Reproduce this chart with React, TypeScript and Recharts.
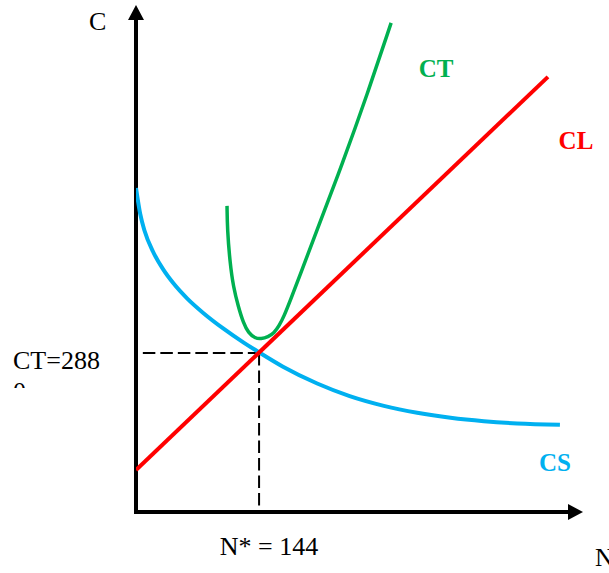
import React from 'react';
import { LineChart, Line, XAxis, YAxis, ReferenceLine, LabelList } from 'recharts';

// Axis extents (N = quantity, C = cost)
const N_MAX = 523;
const C_MAX = 9180;

// Optimum
const N_STAR = 144;
const CT_STAR = 2880;

// CS: storage cost, decreasing with N
const csN = [0, 5, 10, 20, 32, 44, 60, 79, 102, 126, 144, 172, 212, 250, 290, 329, 368, 407, 446, 496];
const csC = [5867, 5392, 5092, 4712, 4388, 4136, 3864, 3600, 3324, 3067, 2890, 2630, 2326, 2098, 1922, 1797, 1707, 1645, 1604, 1579];

// CT: total cost, U-shaped
const ctN = [106.5, 106.9, 110, 113.9, 119.8, 125.6, 131.5, 139.3, 146.3, 154.5, 161.6, 167.4, 173.3, 180.3, 192, 209.6, 242.3, 270.4, 298.5];
const ctC = [5543, 5108, 4510, 4075, 3713, 3423, 3242, 3146, 3134, 3170, 3242, 3369, 3550, 3822, 4293, 5017, 6340, 7553, 8857];

// CL: launch cost, linear in N
const clN = [0, 482];
const clC = [761, 7879];

const toRows = (ns: number[], cs: number[]) => ns.map((n, i) => ({ n, c: cs[i] }));
const csData = toRows(csN, csC);
const ctData = toRows(ctN, ctC);
const clData = toRows(clN, clC);

const SERIF = "'Liberation Serif', 'Times New Roman', serif";
const GREEN = '#00B050';
const RED = '#FF0000';
const BLUE = '#00B0F0';

const XTick = (props: any) => {
  const { x, y, payload } = props;
  return (
    <text x={x + 10} y={y + 43} textAnchor="middle" fontFamily={SERIF} fontSize={26} fill="#000">
      {`N* = ${payload.value}`}
    </text>
  );
};

const YTick = (props: any) => {
  const { x, y, payload } = props;
  const label = `CT=${payload.value}`;
  return (
    <g>
      <defs>
        <clipPath id="ytick-clip">
          <rect x={0} y={y - 40} width={x - 4} height={75} />
        </clipPath>
      </defs>
      <g clipPath="url(#ytick-clip)">
        <text x={x - 123} y={y + 16} fontFamily={SERIF} fontSize={26} fill="#000">
          {label.slice(0, -1)}
        </text>
        <text x={x - 123} y={y + 47} fontFamily={SERIF} fontSize={26} fill="#000">
          {label.slice(-1)}
        </text>
      </g>
    </g>
  );
};

// Axis line with an arrowhead at its far end
const arrowAxis = (props: any) => {
  const { x1, y1, x2, y2 } = props;
  const dx = x2 - x1;
  const dy = y2 - y1;
  const len = Math.sqrt(dx * dx + dy * dy) || 1;
  const ux = dx / len;
  const uy = dy / len;
  const head = 15;
  const half = 8;
  const bx = x2 - ux * head;
  const by = y2 - uy * head;
  const px = -uy * half;
  const py = ux * half;
  return (
    <g>
      <line x1={x1} y1={y1} x2={bx + ux * 2} y2={by + uy * 2} stroke="#000" strokeWidth={4} strokeLinecap="square" />
      <polygon points={`${x2},${y2} ${bx + px},${by + py} ${bx - px},${by - py}`} fill="#000" />
    </g>
  );
};

const curveLabel = (text: string, color: string, lastIndex: number, dx: number, dy: number) => (props: any) => {
  const { x, y, index } = props;
  if (index !== lastIndex) return null;
  return (
    <text x={x + dx} y={y + dy} textAnchor="middle" fontFamily={SERIF} fontWeight="bold" fontSize={25} fill={color}>
      {text}
    </text>
  );
};

export default function App() {
  return (
    <div style={{ position: 'absolute', left: 0, top: 0 }}>
      <LineChart width={609} height={573} margin={{ top: 5, right: 26, bottom: 11, left: 16 }}>
        <XAxis
          type="number"
          dataKey="n"
          domain={[0, N_MAX]}
          allowDataOverflow
          ticks={[N_STAR]}
          height={50}
          axisLine={false}
          tickLine={false}
          tickSize={0}
          tickMargin={0}
          tick={XTick}
          label={{
            content: (p: any) => {
              const vb = p.viewBox;
              return (
                <text x={vb.x + vb.width + 12} y={vb.y + 54} fontFamily={SERIF} fontSize={26} fill="#000">
                  N
                </text>
              );
            },
          }}
        />
        <YAxis
          type="number"
          domain={[0, C_MAX]}
          allowDataOverflow
          ticks={[CT_STAR]}
          width={120}
          axisLine={false}
          tickLine={false}
          tickSize={0}
          tickMargin={0}
          tick={YTick}
          label={{
            content: (p: any) => {
              const vb = p.viewBox;
              return (
                <text x={vb.x + vb.width - 47} y={vb.y + 25} fontFamily={SERIF} fontSize={26} fill="#000">
                  C
                </text>
              );
            },
          }}
        />

        <ReferenceLine segment={[{ x: 0, y: 0 }, { x: N_MAX, y: 0 }]} ifOverflow="visible" shape={arrowAxis} />
        <ReferenceLine segment={[{ x: 0, y: 0 }, { x: 0, y: C_MAX }]} ifOverflow="visible" shape={arrowAxis} />

        <ReferenceLine
          segment={[{ x: 8, y: CT_STAR }, { x: N_STAR, y: CT_STAR }]}
          ifOverflow="visible"
          stroke="#000"
          strokeWidth={2}
          strokeDasharray="12.5 5"
        />
        <ReferenceLine
          segment={[{ x: N_STAR, y: CT_STAR }, { x: N_STAR, y: 0 }]}
          ifOverflow="visible"
          stroke="#000"
          strokeWidth={2}
          strokeDasharray="12.5 5"
        />

        <Line data={csData} dataKey="c" type="monotone" stroke={BLUE} strokeWidth={4} dot={false} isAnimationActive={false}>
          <LabelList dataKey="c" content={curveLabel('CS', BLUE, csData.length - 1, -5, 46)} />
        </Line>
        <Line data={clData} dataKey="c" type="linear" stroke={RED} strokeWidth={4} dot={false} isAnimationActive={false}>
          <LabelList dataKey="c" content={curveLabel('CL', RED, clData.length - 1, 28, 72)} />
        </Line>
        <Line data={ctData} dataKey="c" type="basis" stroke={GREEN} strokeWidth={3.5} dot={false} isAnimationActive={false}>
          <LabelList dataKey="c" content={curveLabel('CT', GREEN, ctData.length - 1, 45, 54)} />
        </Line>
      </LineChart>
    </div>
  );
}
